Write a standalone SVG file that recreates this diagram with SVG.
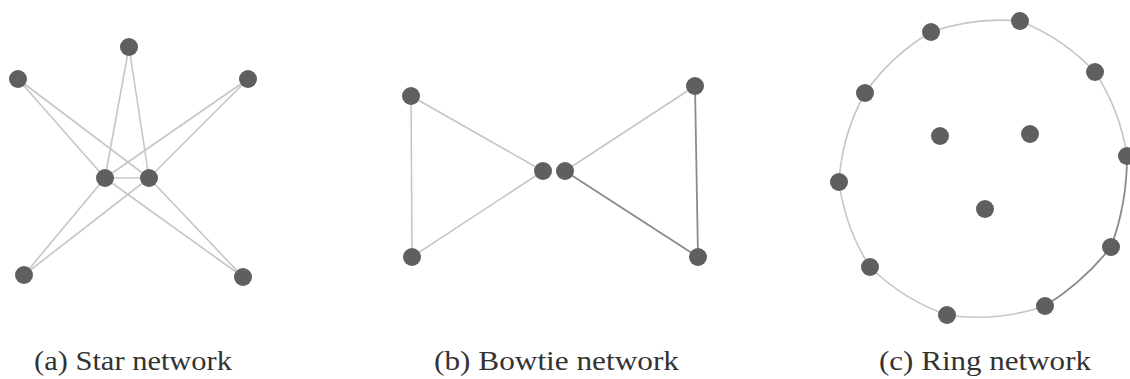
<svg xmlns="http://www.w3.org/2000/svg" width="1130" height="379" viewBox="0 0 1130 379">
<style>
.e{stroke:#c6c6c6;stroke-width:1.6;fill:none}
.d{stroke:#8a8a8a;stroke-width:1.8;fill:none}
.n{fill:#5f5f5f}
.lbl{font-family:"Liberation Serif","Times New Roman",serif;font-size:28px;fill:#333}
</style>
<rect width="1130" height="379" fill="#fff"/>
<g id="connectors">
<g id="star-edges">
<line class="e" x1="129" y1="47" x2="105" y2="178"/>
<line class="e" x1="129" y1="47" x2="149" y2="178"/>
<line class="e" x1="18" y1="79" x2="105" y2="178"/>
<line class="e" x1="18" y1="79" x2="149" y2="178"/>
<line class="e" x1="248" y1="79" x2="105" y2="178"/>
<line class="e" x1="248" y1="79" x2="149" y2="178"/>
<line class="e" x1="24" y1="275" x2="105" y2="178"/>
<line class="e" x1="24" y1="275" x2="149" y2="178"/>
<line class="e" x1="243" y1="277" x2="105" y2="178"/>
<line class="e" x1="243" y1="277" x2="149" y2="178"/>
<line class="e" x1="105" y1="178" x2="149" y2="178"/>
</g>
<g id="bowtie-edges">
<line class="e" x1="411" y1="96" x2="412" y2="257"/>
<line class="e" x1="411" y1="96" x2="543" y2="171"/>
<line class="e" x1="412" y1="257" x2="543" y2="171"/>
<line class="e" x1="565" y1="171" x2="695" y2="86"/>
<line class="d" x1="565" y1="171" x2="698" y2="257"/>
<line class="d" x1="695" y1="86" x2="698" y2="257"/>
</g>
<g id="ring-edges">
<path class="e" d="M1020 21 A210 210 0 0 1 1095 72"/>
<path class="e" d="M1095 72 A210 210 0 0 1 1127 156"/>
<path class="d" d="M1127 156 A260 260 0 0 1 1111 247"/>
<path class="d" d="M1111 247 A260 260 0 0 1 1045 306"/>
<path class="e" d="M1045 306 A210 210 0 0 1 947 315"/>
<path class="e" d="M947 315 A210 210 0 0 1 870 267"/>
<path class="e" d="M870 267 A210 210 0 0 1 839 182"/>
<path class="e" d="M839 182 A210 210 0 0 1 865 93"/>
<path class="e" d="M865 93 A210 210 0 0 1 931 32"/>
<path class="e" d="M931 32 A210 210 0 0 1 1020 21"/>
</g>
</g>
<g id="star">
<circle id="s-top" class="n" cx="129" cy="47" r="9"/>
<circle id="s-tl" class="n" cx="18" cy="79" r="9"/>
<circle id="s-tr" class="n" cx="248" cy="79" r="9"/>
<circle id="s-cl" class="n" cx="105" cy="178" r="9"/>
<circle id="s-cr" class="n" cx="149" cy="178" r="9"/>
<circle id="s-bl" class="n" cx="24" cy="275" r="9"/>
<circle id="s-br" class="n" cx="243" cy="277" r="9"/>
</g>
<g id="bowtie">
<circle id="b-tl" class="n" cx="411" cy="96" r="9"/>
<circle id="b-bl" class="n" cx="412" cy="257" r="9"/>
<circle id="b-cl" class="n" cx="543" cy="171" r="9"/>
<circle id="b-cr" class="n" cx="565" cy="171" r="9"/>
<circle id="b-tr" class="n" cx="695" cy="86" r="9"/>
<circle id="b-br" class="n" cx="698" cy="257" r="9"/>
</g>
<g id="ring">
<circle id="r1" class="n" cx="1020" cy="21" r="9"/>
<circle id="r2" class="n" cx="1095" cy="72" r="9"/>
<circle id="r3" class="n" cx="1127" cy="156" r="9"/>
<circle id="r4" class="n" cx="1111" cy="247" r="9"/>
<circle id="r5" class="n" cx="1045" cy="306" r="9"/>
<circle id="r6" class="n" cx="947" cy="315" r="9"/>
<circle id="r7" class="n" cx="870" cy="267" r="9"/>
<circle id="r8" class="n" cx="839" cy="182" r="9"/>
<circle id="r9" class="n" cx="865" cy="93" r="9"/>
<circle id="r10" class="n" cx="931" cy="32" r="9"/>
<circle id="r11" class="n" cx="940" cy="136" r="9"/>
<circle id="r12" class="n" cx="1030" cy="134" r="9"/>
<circle id="r13" class="n" cx="985" cy="209" r="9"/>
</g>
<g id="labels">
<text class="lbl" x="34" y="370" textLength="198" lengthAdjust="spacingAndGlyphs">(a) Star network</text>
<text class="lbl" x="434" y="370" textLength="245" lengthAdjust="spacingAndGlyphs">(b) Bowtie network</text>
<text class="lbl" x="879" y="370" textLength="212" lengthAdjust="spacingAndGlyphs">(c) Ring network</text>
</g>
</svg>
